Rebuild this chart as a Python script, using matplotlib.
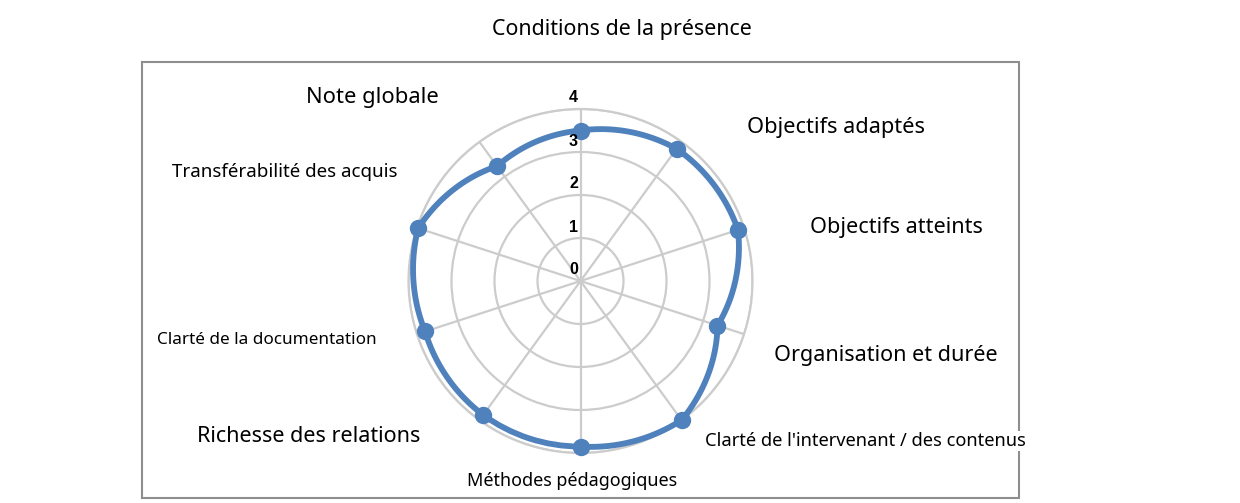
import matplotlib
matplotlib.use('Agg')
import matplotlib.pyplot as plt
import numpy as np
from matplotlib.patches import Rectangle

# ---- data ----
title = "Conditions de la présence"
categories = ["", "Objectifs adaptés", "Objectifs atteints", "Organisation et durée",
              "Clarté de l'intervenant / des contenus", "Méthodes pédagogiques",
              "Richesse des relations", "Clarté de la documentation",
              "Transférabilité des acquis", "Note globale"]
values = [3.5, 3.8, 3.85, 3.35, 4.0, 3.85, 3.85, 3.8, 3.97, 3.3]
r_ticks = [0, 1, 2, 3, 4]
r_tick_labels = ["0", "1", "2", "3", "4"]

# ---- style / layout (pixels in a 1240x503 image) ----
W, H = 1240, 503
cx, cy, R = 580.5, 281, 172
label_pos = [None, (836, 127), (896, 228), (886, 356), (865, 441), (572, 481),
             (309, 436), (267, 340), (285, 172), (372, 97)]
label_w = [None, 177, 172, 223, 321, 210, 223, 218, 225, 132]
FONT = ['Noto Sans', 'DejaVu Sans']
blue = '#4F81BD'
grid_c = '#CCCCCC'

fig = plt.figure(figsize=(W / 100, H / 100), dpi=100)
fig.patch.set_facecolor('white')

# border
fig.add_artist(Rectangle((142 / W, 1 - 498 / H), (1019 - 142) / W, (498 - 62) / H,
                         transform=fig.transFigure, fill=False, ec='#8E8E8E', lw=1.5, zorder=0))

ax = fig.add_axes([(cx - R) / W, (H - cy - R) / H, 2 * R / W, 2 * R / H], projection='polar')
ax.set_theta_zero_location('N')
ax.set_theta_direction(-1)
n = len(categories)
theta = np.arange(n) * 2 * np.pi / n
th_c = np.append(theta, 2 * np.pi)
v_c = np.append(values, values[0])
line, = ax.plot(th_c, v_c, color=blue, lw=4.2, zorder=5, clip_on=False,
                solid_joinstyle='round')
line.get_path()._interpolation_steps = 60
ax.plot(theta, values, linestyle='none', marker='o', ms=11.5, color=blue,
        zorder=6, clip_on=False)
ax.set_ylim(0, 4)
ax.set_yticks(r_ticks[1:])
ax.set_yticklabels([])
ax.set_xticks(theta)
ax.set_xticklabels([])
ax.tick_params(length=0)
ax.grid(True, color=grid_c, lw=1.6)
ax.spines['polar'].set_color(grid_c)
ax.spines['polar'].set_linewidth(1.6)
ax.set_facecolor('none')

for r, lab in zip(r_ticks, r_tick_labels):
    ax.annotate(lab, xy=(0, r), xytext=(-7, 11), textcoords='offset pixels',
                ha='center', va='center', fontsize=11.5, fontweight='bold',
                family=['Liberation Sans', 'DejaVu Sans'], color='black', zorder=7,
                annotation_clip=False)

texts = []
t = fig.text(622 / W, 1 - 30 / H, title, ha='center', va='center', fontsize=14, family=FONT)
texts.append((t, 260))
for cat, pos, w in zip(categories, label_pos, label_w):
    if pos is None:
        continue
    kw = {}
    if cat.startswith("Clarté de l'"):
        kw['bbox'] = dict(facecolor='white', edgecolor='none', pad=1)
    t = fig.text(pos[0] / W, 1 - pos[1] / H, cat, ha='center', va='center',
                 fontsize=12, family=FONT, zorder=3, **kw)
    texts.append((t, w))

fig.canvas.draw()
rend = fig.canvas.get_renderer()
for t, w in texts:
    bw = t.get_window_extent(rend).width
    t.set_fontsize(t.get_fontsize() * w / bw)

fig.savefig('out.png', dpi=100, facecolor='white')
